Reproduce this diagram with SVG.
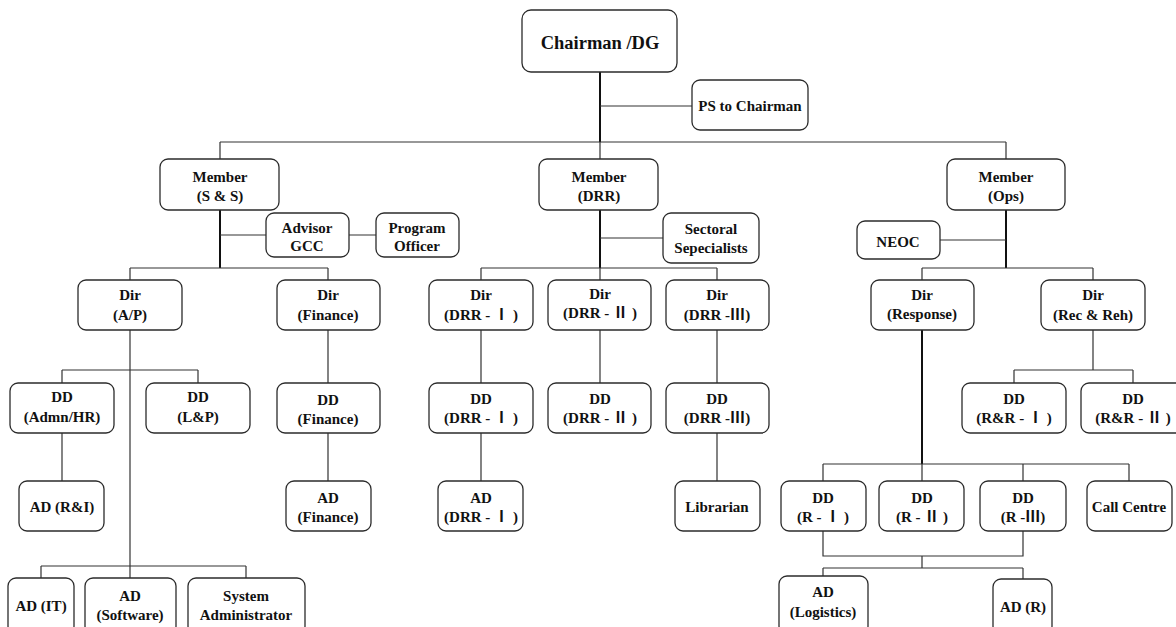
<svg xmlns="http://www.w3.org/2000/svg" width="1176" height="627" viewBox="0 0 1176 627" font-family="Liberation Serif, Times New Roman, DejaVu Serif, serif">
  <style>
    .box { fill: #ffffff; stroke: #2b2b2b; stroke-width: 1.3; }
    .t { font-family: 'Liberation Serif', 'Times New Roman', 'DejaVu Serif', serif; font-weight: 700; font-size: 15px; fill: #111; text-anchor: middle; }
    .big { font-size: 18.5px; }
    .rn { font-family: 'Noto Sans CJK SC', 'Noto Sans CJK JP', sans-serif; font-weight: 700; }
    .ln { fill: none; stroke: #333; stroke-width: 1.2; }
    .thick { fill: none; stroke: #111; stroke-width: 2; }
  </style>
  <rect width="1176" height="627" fill="#ffffff"/>

  <!-- connectors -->
  <g id="connectors">
    <!-- top level -->
    <path class="thick" d="M600 72 V142"/>
    <path class="ln" d="M600 106 H692"/>
    <path class="ln" d="M220 142 H1006 M220 142 V159 M600 142 V159 M1006 142 V159"/>
    <!-- Member (S & S) -->
    <path class="thick" d="M220 210 V268"/>
    <path class="ln" d="M220 235 H266 M349 235 H376"/>
    <path class="ln" d="M130 268 H328 M130 268 V280 M328 268 V280"/>
    <!-- Member (DRR) -->
    <path class="thick" d="M600 210 V268"/>
    <path class="ln" d="M600 238 H663"/>
    <path class="ln" d="M481 268 H717 M481 268 V280 M600 268 V280 M717 268 V280"/>
    <!-- Member (Ops) -->
    <path class="thick" d="M1006 210 V268"/>
    <path class="ln" d="M940 240 H1006"/>
    <path class="ln" d="M922 268 H1093 M922 268 V280 M1093 268 V280"/>
    <!-- Dir (A/P) -->
    <path class="ln" d="M130 330 V566"/>
    <path class="ln" d="M62 370 H198 M62 370 V383 M198 370 V383"/>
    <path class="ln" d="M62 433 V481"/>
    <path class="ln" d="M41 566 H246 M41 566 V578 M246 566 V578 M130 566 V578"/>
    <!-- Dir (Finance) -->
    <path class="ln" d="M328 330 V383 M328 433 V481"/>
    <!-- DRR branches -->
    <path class="ln" d="M481 330 V383 M481 433 V481"/>
    <path class="ln" d="M600 330 V383"/>
    <path class="ln" d="M717 330 V383 M717 433 V481"/>
    <!-- Dir (Rec & Reh) -->
    <path class="ln" d="M1093 330 V370 M1014 370 H1133 M1014 370 V383 M1133 370 V383"/>
    <!-- Dir (Response) -->
    <path class="thick" d="M922 330 V464"/>
    <path class="ln" d="M823 464 H1129 M823 464 V481 M922 464 V481 M1023 464 V481 M1129 464 V481"/>
    <path class="ln" d="M823 531 V556 H1023 V531 M922 556 V568 M823 568 H1023 M823 568 V576 M1023 568 V579"/>
  </g>

  <!-- top -->
  <g id="chairman"><rect class="box" x="522" y="10" width="155" height="62" rx="9"/><text class="t big" x="600" y="49">Chairman /DG</text></g>
  <g id="ps-chairman"><rect class="box" x="692" y="80" width="116" height="50" rx="8"/><text class="t" x="750" y="111">PS to Chairman</text></g>

  <!-- members -->
  <g id="member-ss"><rect class="box" x="160" y="159" width="119" height="51" rx="8"/><text class="t" x="220" y="182">Member</text><text class="t" x="220" y="201">(S &amp; S)</text></g>
  <g id="member-drr"><rect class="box" x="539" y="159" width="119" height="51" rx="8"/><text class="t" x="599" y="182">Member</text><text class="t" x="599" y="201">(DRR)</text></g>
  <g id="member-ops"><rect class="box" x="947" y="159" width="118" height="51" rx="8"/><text class="t" x="1006" y="182">Member</text><text class="t" x="1006" y="201">(Ops)</text></g>

  <!-- staff -->
  <g id="advisor-gcc"><rect class="box" x="266" y="213" width="83" height="44" rx="8"/><text class="t" x="307" y="233">Advisor</text><text class="t" x="307" y="251">GCC</text></g>
  <g id="program-officer"><rect class="box" x="376" y="213" width="83" height="44" rx="8"/><text class="t" x="417" y="233">Program</text><text class="t" x="417" y="251">Officer</text></g>
  <g id="sectoral"><rect class="box" x="663" y="213" width="96" height="50" rx="8"/><text class="t" x="711" y="234">Sectoral</text><text class="t" x="711" y="253">Sepecialists</text></g>
  <g id="neoc"><rect class="box" x="857" y="221" width="83" height="38" rx="8"/><text class="t" x="898" y="247">NEOC</text></g>

  <!-- directors -->
  <g id="dir-ap"><rect class="box" x="78" y="280" width="104" height="50" rx="8"/><text class="t" x="130" y="300">Dir</text><text class="t" x="130" y="320">(A/P)</text></g>
  <g id="dir-finance"><rect class="box" x="277" y="280" width="103" height="50" rx="8"/><text class="t" x="328" y="300">Dir</text><text class="t" x="328" y="320">(Finance)</text></g>
  <g id="dir-drr1"><rect class="box" x="429" y="280" width="104" height="50" rx="8"/><text class="t" x="481" y="300">Dir</text><text class="t" x="481" y="320">(DRR - <tspan class="rn">Ⅰ</tspan> )</text></g>
  <g id="dir-drr2"><rect class="box" x="548" y="280" width="103" height="50" rx="8"/><text class="t" x="600" y="299">Dir</text><text class="t" x="600" y="318">(DRR - <tspan class="rn">Ⅱ</tspan> )</text></g>
  <g id="dir-drr3"><rect class="box" x="666" y="280" width="103" height="50" rx="8"/><text class="t" x="717" y="300">Dir</text><text class="t" x="717" y="320">(DRR -<tspan class="rn">Ⅲ</tspan>)</text></g>
  <g id="dir-response"><rect class="box" x="871" y="280" width="103" height="50" rx="8"/><text class="t" x="922" y="300">Dir</text><text class="t" x="922" y="319">(Response)</text></g>
  <g id="dir-recreh"><rect class="box" x="1041" y="280" width="104" height="50" rx="8"/><text class="t" x="1093" y="300">Dir</text><text class="t" x="1093" y="320">(Rec &amp; Reh)</text></g>

  <!-- deputy directors -->
  <g id="dd-admn"><rect class="box" x="10" y="383" width="104" height="50" rx="8"/><text class="t" x="62" y="402">DD</text><text class="t" x="62" y="422">(Admn/HR)</text></g>
  <g id="dd-lp"><rect class="box" x="146" y="383" width="104" height="50" rx="8"/><text class="t" x="198" y="402">DD</text><text class="t" x="198" y="422">(L&amp;P)</text></g>
  <g id="dd-finance"><rect class="box" x="277" y="383" width="103" height="50" rx="8"/><text class="t" x="328" y="405">DD</text><text class="t" x="328" y="424">(Finance)</text></g>
  <g id="dd-drr1"><rect class="box" x="429" y="383" width="104" height="50" rx="8"/><text class="t" x="481" y="404">DD</text><text class="t" x="481" y="423">(DRR - <tspan class="rn">Ⅰ</tspan> )</text></g>
  <g id="dd-drr2"><rect class="box" x="548" y="383" width="103" height="50" rx="8"/><text class="t" x="600" y="404">DD</text><text class="t" x="600" y="423">(DRR - <tspan class="rn">Ⅱ</tspan> )</text></g>
  <g id="dd-drr3"><rect class="box" x="666" y="383" width="103" height="50" rx="8"/><text class="t" x="717" y="404">DD</text><text class="t" x="717" y="423">(DRR -<tspan class="rn">Ⅲ</tspan>)</text></g>
  <g id="dd-rr1"><rect class="box" x="962" y="383" width="104" height="50" rx="8"/><text class="t" x="1014" y="404">DD</text><text class="t" x="1014" y="423">(R&amp;R - <tspan class="rn">Ⅰ</tspan> )</text></g>
  <g id="dd-rr2"><rect class="box" x="1081" y="383" width="104" height="50" rx="8"/><text class="t" x="1133" y="404">DD</text><text class="t" x="1133" y="423">(R&amp;R - <tspan class="rn">Ⅱ</tspan> )</text></g>

  <!-- assistant directors / units -->
  <g id="ad-ri"><rect class="box" x="19" y="481" width="85" height="50" rx="8"/><text class="t" x="62" y="512">AD (R&amp;I)</text></g>
  <g id="ad-finance"><rect class="box" x="286" y="481" width="85" height="50" rx="8"/><text class="t" x="328" y="503">AD</text><text class="t" x="328" y="522">(Finance)</text></g>
  <g id="ad-drr1"><rect class="box" x="438" y="481" width="85" height="50" rx="8"/><text class="t" x="481" y="503">AD</text><text class="t" x="481" y="522">(DRR - <tspan class="rn">Ⅰ</tspan> )</text></g>
  <g id="librarian"><rect class="box" x="675" y="481" width="85" height="50" rx="8"/><text class="t" x="717" y="512">Librarian</text></g>
  <g id="dd-r1"><rect class="box" x="781" y="481" width="85" height="50" rx="8"/><text class="t" x="823" y="503">DD</text><text class="t" x="823" y="522">(R - <tspan class="rn">Ⅰ</tspan> )</text></g>
  <g id="dd-r2"><rect class="box" x="879" y="481" width="85" height="50" rx="8"/><text class="t" x="922" y="503">DD</text><text class="t" x="922" y="522">(R - <tspan class="rn">Ⅱ</tspan> )</text></g>
  <g id="dd-r3"><rect class="box" x="980" y="481" width="86" height="50" rx="8"/><text class="t" x="1023" y="503">DD</text><text class="t" x="1023" y="522">(R -<tspan class="rn">Ⅲ</tspan>)</text></g>
  <g id="call-centre"><rect class="box" x="1087" y="481" width="85" height="50" rx="8"/><text class="t" x="1129" y="512">Call Centre</text></g>

  <!-- bottom row -->
  <g id="ad-it"><rect class="box" x="8" y="578" width="66" height="56" rx="8"/><text class="t" x="41" y="611">AD (IT)</text></g>
  <g id="ad-software"><rect class="box" x="85" y="578" width="91" height="56" rx="8"/><text class="t" x="130" y="601">AD</text><text class="t" x="130" y="620">(Software)</text></g>
  <g id="sys-admin"><rect class="box" x="188" y="578" width="117" height="56" rx="8"/><text class="t" x="246" y="601">System</text><text class="t" x="246" y="620">Administrator</text></g>
  <g id="ad-logistics"><rect class="box" x="779" y="576" width="89" height="58" rx="8"/><text class="t" x="823" y="597">AD</text><text class="t" x="823" y="617">(Logistics)</text></g>
  <g id="ad-r"><rect class="box" x="993" y="579" width="59" height="55" rx="8"/><text class="t" x="1023" y="612">AD (R)</text></g>
</svg>
